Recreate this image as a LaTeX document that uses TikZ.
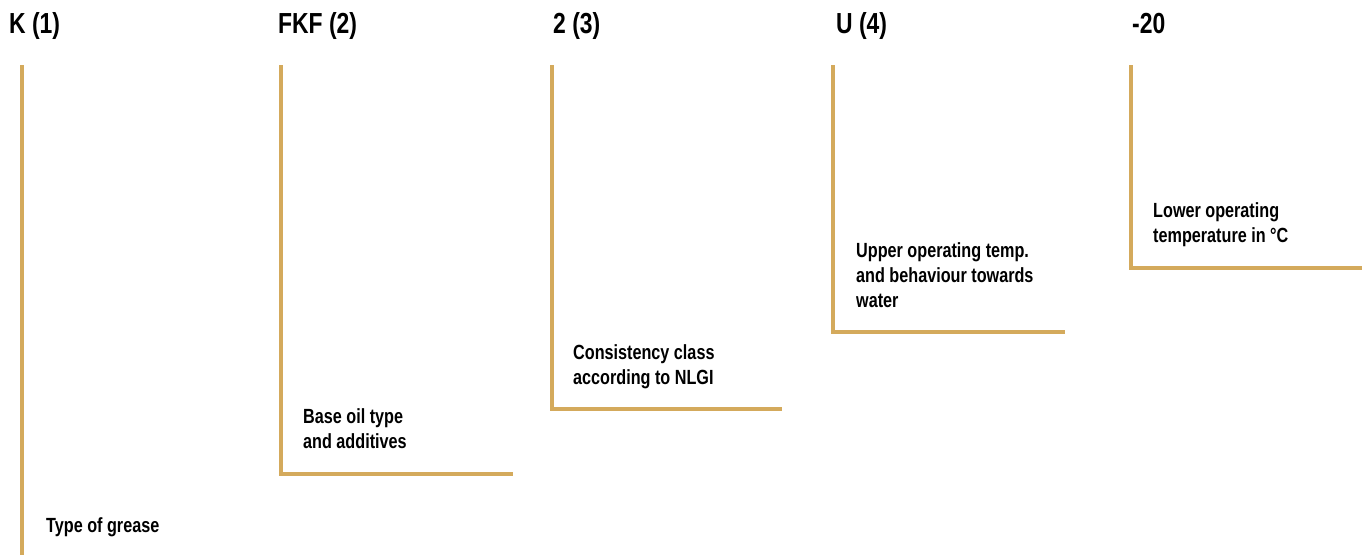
\documentclass[tikz,border=0pt]{standalone}
\usepackage{fontspec}
\setmainfont[FakeStretch=0.79]{Liberation Sans}
\definecolor{gold}{RGB}{212,170,92}
\begin{document}
\begin{tikzpicture}[x=1pt,y=-1pt,
  bracket/.style={draw=gold,line width=3.2pt},
  head/.style={anchor=base west,inner sep=0pt,font=\fontsize{29}{34}\selectfont\bfseries},
  lbl/.style={anchor=base west,inner sep=0pt,align=left,font=\fontsize{20.5}{25}\selectfont\bfseries}]
\useasboundingbox (0,0) rectangle (1364,555);
% headings
\node[head] (h1) at (9,33) {K (1)};
\node[head] (h2) at (278,33) {FKF (2)};
\node[head] (h3) at (553,33) {2 (3)};
\node[head] (h4) at (836,33) {U (4)};
\node[head] (h5) at (1132,33) {-20};
% labels (anchor = baseline of last line)
\node[lbl] (l1) at (46,532) {Type of grease};
\node[lbl] (l2) at (303,448) {Base oil type\\and additives};
\node[lbl] (l3) at (573,384) {Consistency class\\according to NLGI};
\node[lbl] (l4) at (856,307) {Upper operating temp.\\and behaviour towards\\water};
\node[lbl] (l5) at (1153,242) {Lower operating\\temperature in °C};
% bracket coordinates
\coordinate (a1) at (22,65);  \coordinate (b1) at (22,555);
\coordinate (a2) at (281,65); \coordinate (b2) at (281,474); \coordinate (c2) at (513,474);
\coordinate (a3) at (552,65); \coordinate (b3) at (552,409); \coordinate (c3) at (782,409);
\coordinate (a4) at (833,65); \coordinate (b4) at (833,332); \coordinate (c4) at (1065,332);
\coordinate (a5) at (1131,65); \coordinate (b5) at (1131,268); \coordinate (c5) at (1362,268);
\draw[bracket] (a1) -- (b1);
\draw[bracket] (a2) -- (b2) -- (c2);
\draw[bracket] (a3) -- (b3) -- (c3);
\draw[bracket] (a4) -- (b4) -- (c4);
\draw[bracket] (a5) -- (b5) -- (c5);
\end{tikzpicture}
\end{document}
